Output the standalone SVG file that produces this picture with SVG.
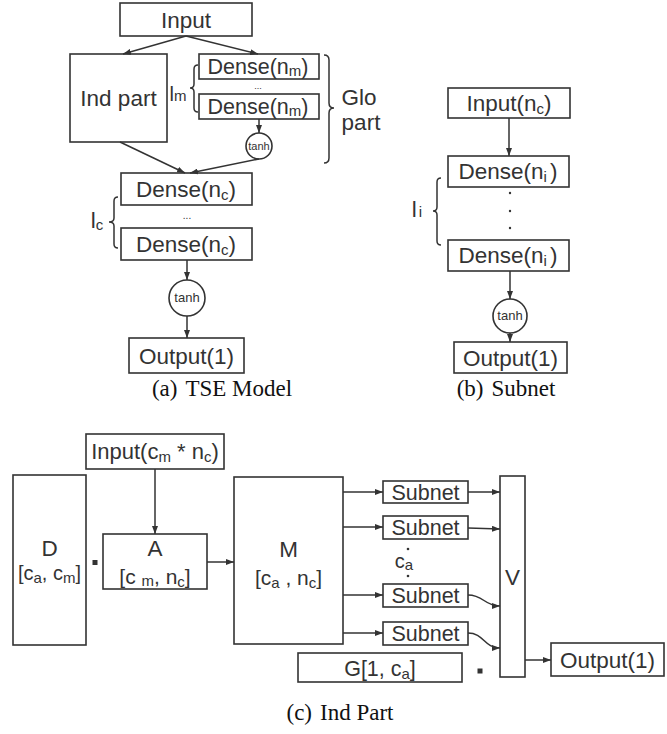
<svg xmlns="http://www.w3.org/2000/svg" width="667" height="734" viewBox="0 0 667 734">
<defs>
<style>
.box{fill:#fff;stroke:#333;stroke-width:1.6}
.ln{fill:none;stroke:#333;stroke-width:1.5}
.ar{fill:none;stroke:#333;stroke-width:1.5;marker-end:url(#ah)}
.t{font-family:"Liberation Sans",Arial,sans-serif;font-size:22.5px;fill:#333;text-anchor:middle}
.s{font-size:15px}
.sm{font-family:"Liberation Sans",Arial,sans-serif;font-size:12px;fill:#333;text-anchor:middle}
.cap{font-family:"Liberation Serif","Times New Roman",serif;font-size:23px;fill:#111;text-anchor:middle}
.dot{fill:#333}
</style>
<marker id="ah" markerWidth="8" markerHeight="6" refX="8" refY="3" orient="auto" markerUnits="userSpaceOnUse"><path d="M0,0 L8,3 L0,6 z" fill="#333"/></marker>
</defs>
<rect width="667" height="734" fill="#fff"/>

<!-- (a) TSE Model -->
<g id="a-input"><rect class="box" x="120" y="3" width="132" height="33"/><text class="t" x="186" y="28">Input</text></g>
<g id="a-ind"><rect class="box" x="70" y="54" width="97" height="88"/><text class="t" x="118.5" y="106">Ind part</text></g>
<g id="a-dm1"><rect class="box" x="199" y="54" width="120" height="25"/><text class="t" x="258" y="74" style="font-size:21.5px">Dense(n<tspan class="s" dy="2">m</tspan><tspan dy="-2">)</tspan></text></g>
<g id="a-dm2"><rect class="box" x="199" y="94" width="120" height="25"/><text class="t" x="258" y="114" style="font-size:21.5px">Dense(n<tspan class="s" dy="2">m</tspan><tspan dy="-2">)</tspan></text></g>
<g id="a-dmdots"><text class="sm" x="258" y="89" style="font-size:9px">...</text></g>
<g id="a-lm"><text class="t" x="178" y="101" style="font-size:20px">l<tspan class="s" dy="0">m</tspan></text><path class="ln" d="M198,65 Q194,65 194,69 L194,84 Q194,88 190,88 Q194,88 194,92 L194,108 Q194,112 198,112"/></g>
<g id="a-tanh1"><circle class="box" cx="259" cy="146" r="13"/><text class="sm" x="259" y="150" style="font-size:11px">tanh</text></g>
<g id="a-glo"><path class="ln" d="M324,55 Q329,55 329,60 L329,103 Q329,108 334,108 Q329,108 329,113 L329,158 Q329,163 324,163"/><text class="t" x="359" y="105">Glo</text><text class="t" x="361" y="130">part</text></g>
<g id="a-dc1"><rect class="box" x="121" y="173" width="131" height="32"/><text class="t" x="186" y="197">Dense(n<tspan class="s" dy="3">c</tspan><tspan dy="-3">)</tspan></text></g>
<g id="a-dcdots"><text class="sm" x="187" y="219" style="font-size:10px">...</text></g>
<g id="a-dc2"><rect class="box" x="121" y="228" width="131" height="32"/><text class="t" x="186" y="252">Dense(n<tspan class="s" dy="3">c</tspan><tspan dy="-3">)</tspan></text></g>
<g id="a-lc"><text class="t" x="97" y="228">l<tspan class="s" dy="2">c</tspan></text><path class="ln" d="M118,197 Q114,197 114,201 L114,218 Q114,222 109,222 Q114,222 114,226 L114,244 Q114,248 118,248"/></g>
<g id="a-tanh2"><circle class="box" cx="187" cy="298" r="18"/><text class="sm" x="187" y="302" style="font-size:13px">tanh</text></g>
<g id="a-out"><rect class="box" x="129" y="338" width="115" height="35"/><text class="t" x="186.5" y="364">Output(1)</text></g>
<text class="cap" x="222" y="396">(a)<tspan dx="8">TSE Model</tspan></text>

<!-- (b) Subnet -->
<g id="b-input"><rect class="box" x="448" y="88" width="122" height="30"/><text class="t" x="509" y="111">Input(n<tspan class="s" dy="3">c</tspan><tspan dy="-3">)</tspan></text></g>
<g id="b-d1"><rect class="box" x="448" y="156" width="121" height="31"/><text class="t" x="508" y="179">Dense(n<tspan class="s" dy="3">i</tspan><tspan dy="-3" dx="3">)</tspan></text></g>
<g id="b-dots"><circle class="dot" cx="510" cy="193" r="1.2"/><circle class="dot" cx="510" cy="211" r="1.2"/><circle class="dot" cx="510" cy="228" r="1.2"/></g>
<g id="b-li"><text class="t" x="417" y="217">l<tspan class="s" dx="2">i</tspan></text><path class="ln" d="M441,178 Q437,178 437,182 L437,207 Q437,211 433,211 Q437,211 437,215 L437,241 Q437,245 441,245"/></g>
<g id="b-d2"><rect class="box" x="448" y="240" width="121" height="31"/><text class="t" x="508" y="263">Dense(n<tspan class="s" dy="3">i</tspan><tspan dy="-3" dx="3">)</tspan></text></g>
<g id="b-tanh"><circle class="box" cx="510" cy="316" r="17"/><text class="sm" x="510" y="320" style="font-size:13px">tanh</text></g>
<g id="b-out"><rect class="box" x="454" y="342" width="113" height="31"/><text class="t" x="510.5" y="366">Output(1)</text></g>
<text class="cap" x="506" y="396">(b)<tspan dx="8">Subnet</tspan></text>

<!-- (c) Ind Part -->
<g id="c-input"><rect class="box" x="86" y="434" width="138" height="35"/><text class="t" x="155" y="459" style="font-size:22px">Input(c<tspan class="s" dy="3">m</tspan><tspan dy="-3"> * n</tspan><tspan class="s" dy="3">c</tspan><tspan dy="-3">)</tspan></text></g>
<g id="c-D"><rect class="box" x="13" y="475" width="73" height="170"/><text class="t" x="49.5" y="556">D</text><text class="t" x="49.5" y="580" style="font-size:20px">[c<tspan class="s" dy="3">a</tspan><tspan dy="-3">, c</tspan><tspan class="s" dy="3">m</tspan><tspan dy="-3">]</tspan></text></g>
<rect class="dot" x="92.5" y="560" width="5" height="5"/>
<g id="c-A"><rect class="box" x="103" y="534" width="104" height="55"/><text class="t" x="155" y="556">A</text><text class="t" x="155" y="584" style="font-size:21px">[c <tspan class="s" dy="2">m</tspan><tspan dy="-2">, n</tspan><tspan class="s" dy="3">c</tspan><tspan dy="-3">]</tspan></text></g>
<g id="c-M"><rect class="box" x="234" y="477" width="109" height="167"/><text class="t" x="288.5" y="557">M</text><text class="t" x="288.5" y="585" style="font-size:21px">[c<tspan class="s" dy="3">a</tspan><tspan dy="-3"> , n</tspan><tspan class="s" dy="3">c</tspan><tspan dy="-3">]</tspan></text></g>
<g id="c-s1"><rect class="box" x="383" y="481" width="85" height="22"/><text class="t" x="425.5" y="500" style="font-size:21.5px">Subnet</text></g>
<g id="c-s2"><rect class="box" x="383" y="516" width="85" height="23"/><text class="t" x="425.5" y="535" style="font-size:21.5px">Subnet</text></g>
<g id="c-ca"><circle class="dot" cx="408" cy="549" r="1.3"/><text class="t" x="404" y="568" style="font-size:20px">c<tspan class="s" dy="2">a</tspan></text><circle class="dot" cx="408" cy="576" r="1.3"/></g>
<g id="c-s3"><rect class="box" x="383" y="584" width="85" height="23"/><text class="t" x="425.5" y="603" style="font-size:21.5px">Subnet</text></g>
<g id="c-s4"><rect class="box" x="383" y="622" width="85" height="23"/><text class="t" x="425.5" y="641" style="font-size:21.5px">Subnet</text></g>
<g id="c-V"><rect class="box" x="500" y="476" width="25" height="201"/><text class="t" x="512.5" y="585">V</text></g>
<g id="c-out"><rect class="box" x="551" y="643" width="113" height="33"/><text class="t" x="607.5" y="668">Output(1)</text></g>
<g id="c-G"><rect class="box" x="298" y="653" width="164" height="29"/><text class="t" x="380" y="676" style="font-size:21.5px">G[1, c<tspan class="s" dy="3">a</tspan><tspan dy="-3">]</tspan></text></g>
<rect class="dot" x="477.5" y="668.5" width="5" height="5"/>
<text class="cap" x="340" y="720">(c)<tspan dx="8">Ind Part</tspan></text>

<g id="connectors">
<path class="ar" d="M186,36 L123,54"/>
<path class="ar" d="M186,36 L258,54"/>
<path class="ar" d="M259,119 L259,133"/>
<path class="ar" d="M120,142 L185,173"/>
<path class="ar" d="M259,159 L190,173"/>
<path class="ar" d="M187,260 L187,280"/>
<path class="ar" d="M187,316 L187,338"/>
<path class="ar" d="M509,118 L509,156"/>
<path class="ar" d="M510,271 L510,299"/>
<path class="ar" d="M510,333 L510,342"/>
<path class="ar" d="M155,469 L155,534"/>
<path class="ar" d="M207,562 L234,562"/>
<path class="ar" d="M343,492 L383,492"/>
<path class="ar" d="M343,527 L383,527"/>
<path class="ar" d="M343,595 L383,595"/>
<path class="ar" d="M343,633 L383,633"/>
<path class="ar" d="M468,492 L500,492"/>
<path class="ar" d="M468,528 L500,529"/>
<path class="ar" d="M468,595 C484,595 484,606 500,606"/>
<path class="ar" d="M468,633 C484,633 484,648 500,648"/>
<path class="ar" d="M525,660 L551,660"/>
</g>
</svg>
